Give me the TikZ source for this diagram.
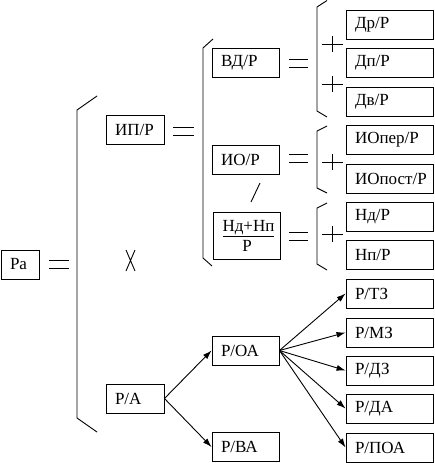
\documentclass[tikz,border=0pt]{standalone}
\usepackage{fontspec}
\setmainfont{Liberation Serif}
\usetikzlibrary{arrows.meta}

\tikzset{
	box/.style={draw, minimum height=29pt, inner xsep=9pt, inner ysep=0pt, align=left},
	rbox/.style={box, text width=69pt},
	mbox/.style={box, text width=49pt},
	sbox/.style={box, text width=40pt},
	arr/.style={-{Latex[length=9pt,width=6pt]}}
}
\newcommand\eqmark[3]{\draw (#1,#3-4) -- (#2,#3-4) (#1,#3+4) -- (#2,#3+4);}
\newcommand\plusmark[2]{\draw (#1-10.5,#2) -- (#1+10.5,#2) (#1,#2-8) -- (#1,#2+8);}

\begin{document}
\begin{tikzpicture}[x=1pt, y=-1pt, line width=0.9pt, font=\fontsize{17}{19}\selectfont]
	\useasboundingbox (0,0) rectangle (434,463);

	\node[box, text width=20pt] (ra) at (20,264.5) {Ра};
	\eqmark{49}{69}{264.5}
	\draw (97,96) -- (77,110) -- (77,418) -- (97,432);

	\node[sbox] (ipr) at (135,130) {ИП/Р};
	\eqmark{173}{194}{131}
	\draw (126,250) -- (135,271) (135,250) -- (126,271);
	\node[sbox] (pa) at (135,398.5) {Р/А};

	% ИП/Р
	\draw (213,39) -- (203,48) -- (203,258) -- (212,266);
	\node[mbox] (vdr) at (245.5,63) {ВД/Р};
	\node[mbox] (ior) at (245.5,159.5) {ИО/Р};
	\draw (260,183) -- (251,202);
	\node[mbox, minimum height=47pt, align=center] (ndnp) at (247,235.5) {\underline{Нд+Нп}\\[1pt]Р};
	\eqmark{289}{308}{63.5}
	\eqmark{289}{308}{158.5}
	\eqmark{289}{308}{236}

	\draw (327,0.5) -- (317,7) -- (317,111) -- (327,117);
	\plusmark{332}{44}
	\plusmark{332}{84}
	\node[rbox] (drr) at (389.5,24.5) {Др/Р};
	\node[rbox] (dpr) at (389.5,63) {Дп/Р};
	\node[rbox] (dvr) at (389.5,102) {Дв/Р};

	\draw (327,126) -- (317,131) -- (317,188) -- (327,193);
	\plusmark{332}{162}
	\node[rbox] (ioper) at (389.5,140) {ИОпер/Р};
	\node[rbox] (iopost) at (389.5,178.5) {ИОпост/Р};

	\draw (327,203) -- (317,208) -- (317,264) -- (327,270);
	\plusmark{332}{234}
	\node[rbox] (ndr) at (389.5,217) {Нд/Р};
	\node[rbox] (npr) at (389.5,255) {Нп/Р};

	% Р/А
	\node[mbox] (poa) at (245.5,350.5) {Р/ОА};
	\node[mbox] (pva) at (245.5,447) {Р/ВА};
	\draw[arr] (pa.east) -- (poa.west);
	\draw[arr] (pa.east) -- (pva.west);

	\node[rbox] (ptz) at (389.5,293.5) {Р/ТЗ};
	\node[rbox] (pmz) at (389.5,332.5) {Р/МЗ};
	\node[rbox] (pdz) at (389.5,370.5) {Р/ДЗ};
	\node[rbox] (pda) at (389.5,408.5) {Р/ДА};
	\node[rbox] (ppoa) at (389.5,447.5) {Р/ПОА};
	\foreach \t in {ptz,pmz,pdz,pda,ppoa}
		\draw[arr] (poa.east) -- (\t.west);
\end{tikzpicture}
\end{document}
